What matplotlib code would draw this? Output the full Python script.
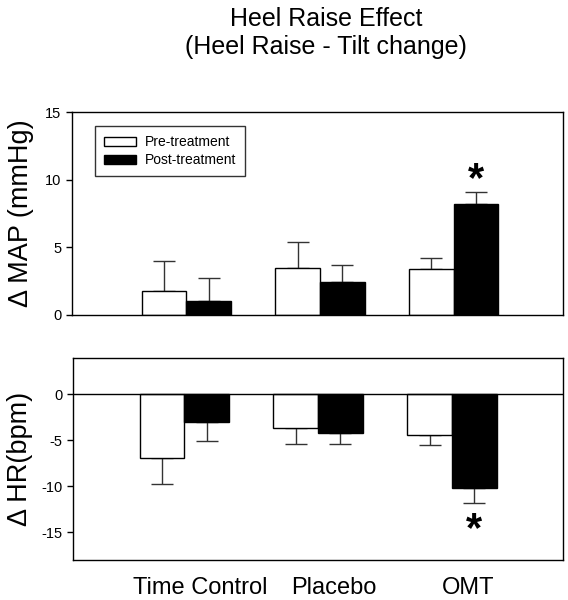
import numpy as np
import matplotlib
matplotlib.use('Agg')
import matplotlib.pyplot as plt
from matplotlib.patches import Patch

plt.rcParams['font.family'] = ['Liberation Sans', 'DejaVu Sans']
plt.rcParams['axes.unicode_minus'] = False

grupos = ['Time Control', 'Placebo', 'OMT']
series = ['Pre-treatment', 'Post-treatment']

# CAMBIO EN PRESION ARTERIAL MEDIA (mmHg)
map_pre = [1.8, 3.5, 3.4]
map_pre_err = [2.2, 1.9, 0.8]
map_post = [1.0, 2.45, 8.2]
map_post_err = [1.7, 1.25, 0.9]

# CAMBIO EN FRECUENCIA CARDIACA (bpm)
hr_pre = [-6.9, -3.7, -4.45]
hr_pre_err = [2.85, 1.7, 1.1]
hr_post = [-3.05, -4.15, -10.15]
hr_post_err = [2.05, 1.25, 1.6]

yticks_map = [0, 5, 10, 15]
yticks_hr = [0, -5, -10, -15]

x = np.arange(1, len(grupos) + 1)
ancho = 0.334
err_color = '#333333'

fig = plt.figure(figsize=(5.68, 6), dpi=100)
ax1 = fig.add_axes([0.1268, 0.475, 0.8644, 0.3383])
ax2 = fig.add_axes([0.128, 0.0667, 0.863, 0.3372])

fig.text(0.574, 0.968, 'Heel Raise Effect', ha='center', va='center', fontsize=18)
fig.text(0.574, 0.922, '(Heel Raise - Tilt change)', ha='center', va='center', fontsize=18)

# PANEL SUPERIOR
ax1.bar(x - ancho / 2, map_pre, ancho, color='white', edgecolor='black', linewidth=1, zorder=2)
ax1.bar(x + ancho / 2, map_post, ancho, color='black', edgecolor='black', linewidth=1, zorder=2)
ax1.errorbar(x - ancho / 2, map_pre, yerr=[np.zeros(3), map_pre_err], fmt='none',
             ecolor=err_color, elinewidth=1, capsize=8, capthick=1, zorder=1)
ax1.errorbar(x + ancho / 2, map_post, yerr=[np.zeros(3), map_post_err], fmt='none',
             ecolor=err_color, elinewidth=1, capsize=8, capthick=1, zorder=1)
ax1.set_xlim(0.145, 3.817)
ax1.set_ylim(0, 15)
ax1.set_yticks(yticks_map)
ax1.set_xticks([])
ax1.set_ylabel('Δ MAP (mmHg)', fontsize=19.5, labelpad=8)
ax1.text(x[2] + ancho / 2, map_post[2] + map_post_err[2] + 0.9, '*', ha='center', va='center',
         fontsize=30, fontweight='bold')

leyenda = [Patch(facecolor='white', edgecolor='black', label=series[0]),
           Patch(facecolor='black', edgecolor='black', label=series[1])]
leg = ax1.legend(handles=leyenda, loc='upper left', bbox_to_anchor=(0.047, 0.93),
                 fontsize=10, frameon=True, fancybox=False, handlelength=2.3, handleheight=0.7,
                 borderpad=0.65, labelspacing=0.3, handletextpad=0.6, borderaxespad=0)
leg.get_frame().set_edgecolor('black')
leg.get_frame().set_linewidth(1)

# PANEL INFERIOR
ax2.bar(x - ancho / 2, hr_pre, ancho, color='white', edgecolor='black', linewidth=1, zorder=2)
ax2.bar(x + ancho / 2, hr_post, ancho, color='black', edgecolor='black', linewidth=1, zorder=2)
ax2.errorbar(x - ancho / 2, hr_pre, yerr=[hr_pre_err, np.zeros(3)], fmt='none',
             ecolor=err_color, elinewidth=1, capsize=8, capthick=1, zorder=1)
ax2.errorbar(x + ancho / 2, hr_post, yerr=[hr_post_err, np.zeros(3)], fmt='none',
             ecolor=err_color, elinewidth=1, capsize=8, capthick=1, zorder=1)
ax2.axhline(0, color='black', linewidth=1, zorder=3)
ax2.set_xlim(0.165, 3.83)
ax2.set_ylim(-18, 4)
ax2.set_yticks(yticks_hr)
ax2.set_ylabel('Δ HR(bpm)', fontsize=19.5, labelpad=6)
ax2.text(x[2] + ancho / 2, hr_post[2] - hr_post_err[2] - 3.0, '*', ha='center', va='center',
         fontsize=30, fontweight='bold')

ax2.set_xticks(x + 0.12)
ax2.set_xticklabels(grupos, fontsize=17)
ax2.tick_params(axis='x', length=0, pad=12)

for ax in (ax1, ax2):
    ax.tick_params(axis='y', direction='out', length=4, labelsize=10.5, width=1)
    for s in ax.spines.values():
        s.set_linewidth(1)

fig.savefig('out.png', dpi=100)
